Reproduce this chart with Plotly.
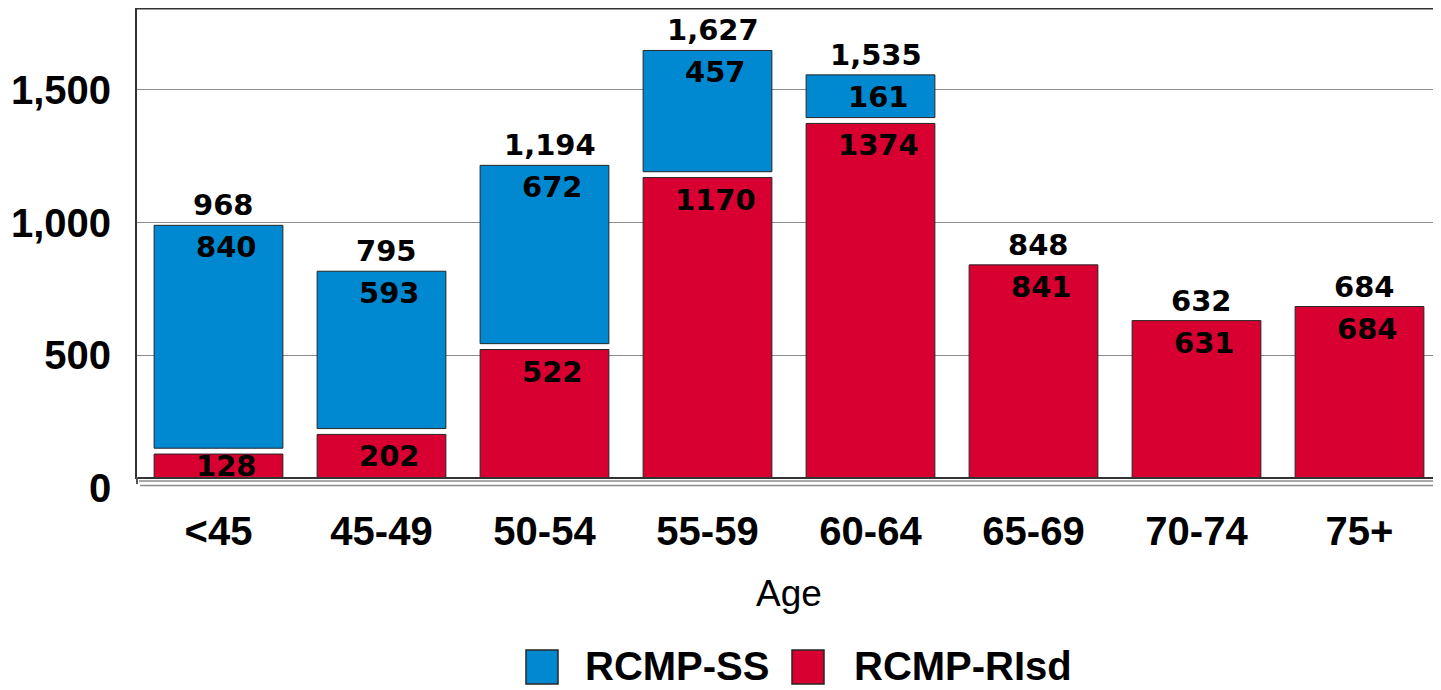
import plotly.graph_objects as go

# ---------------- data ----------------
categories = ["<45", "45-49", "50-54", "55-59", "60-64", "65-69", "70-74", "75+"]
rcmp_ss = [840, 593, 672, 457, 161, 7, 1, 0]
rcmp_risd = [128, 202, 522, 1170, 1374, 841, 631, 684]
totals = [968, 795, 1194, 1627, 1535, 848, 632, 684]
y_ticks = [500, 1000, 1500]
y_tick_text = ["500", "1,000", "1,500"]
zero_label = "0"
series_names = ["RCMP-SS", "RCMP-RIsd"]
x_title = "Age"

# ---------------- style ----------------
BLUE = "#0089d0"
RED = "#d70030"
OUTLINE = "#262626"
OFF = 8                               # page body margin offset
W, H = 1441 - OFF, 690 - OFF
ML, MR, MT, MB = 137 - OFF, 0, 0, 213
PLOT_H = H - MT - MB
PLOT_W = W - ML - MR
YMIN, YMAX = 41.5, 1809.0
K = PLOT_H / (YMAX - YMIN)          # px per data unit
GAP = 22                             # visual gap between stacked segments
LABEL_FONT = dict(family="DejaVu Sans", size=29, color="black", weight="bold")
AX_FONT = dict(family="Liberation Sans", size=40, color="black", weight="bold")


def py(ypix):
    """screen pixel row -> paper y"""
    return (H - MB - (ypix - OFF)) / PLOT_H


def px(xpix):
    """screen pixel column -> paper x"""
    return (xpix - OFF - ML) / PLOT_W


ss_visible = [v >= GAP for v in rcmp_ss]
ss_base = [r + GAP for r in rcmp_risd]

fig = go.Figure()
fig.add_trace(go.Bar(
    x=categories, y=rcmp_risd, name=series_names[1],
    marker=dict(color=RED, line=dict(color=OUTLINE, width=1)),
    showlegend=False, hoverinfo="x+y",
))
fig.add_trace(go.Bar(
    x=categories, y=rcmp_ss, base=ss_base, name=series_names[0],
    marker=dict(color=BLUE, line=dict(color=OUTLINE, width=1),
                opacity=[1 if v else 0 for v in ss_visible]),
    showlegend=False, hoverinfo="x+y",
))

annotations = []
for i, cat in enumerate(categories):
    vis_h = (rcmp_risd[i] - YMIN) * K
    shift = min(22, vis_h / 2)
    annotations.append(dict(x=cat, y=rcmp_risd[i], xref="x", yref="y",
                            text=str(rcmp_risd[i]), showarrow=False,
                            yanchor="middle", yshift=-shift, xshift=8,
                            font=LABEL_FONT))
    top = rcmp_risd[i]
    if ss_visible[i]:
        top = ss_base[i] + rcmp_ss[i]
        annotations.append(dict(x=cat, y=top, xref="x", yref="y",
                                text=str(rcmp_ss[i]), showarrow=False,
                                yanchor="middle", yshift=-22, xshift=8,
                                font=LABEL_FONT))
    annotations.append(dict(x=cat, y=top, xref="x", yref="y",
                            text=f"{totals[i]:,}", showarrow=False,
                            yanchor="middle", yshift=20, xshift=5,
                            font=LABEL_FONT))

TICK_STANDOFF = 16
# "0" tick label sits just under the visible floor (value 0 lies below it)
zero_paper_y = -YMIN * K / PLOT_H
annotations.append(dict(x=0, y=zero_paper_y, xref="paper", yref="paper",
                        text=zero_label, showarrow=False, xanchor="right",
                        yanchor="middle", xshift=-(TICK_STANDOFF + 8),
                        font=AX_FONT))
annotations.append(dict(x=0.5, y=py(593), xref="paper", yref="paper",
                        text=x_title, showarrow=False, yanchor="middle",
                        font=dict(family="Liberation Sans", size=37, color="black")))

shapes = [
    dict(type="line", xref="paper", yref="paper", x0=0, x1=1, y0=1, y1=1,
         line=dict(color="#333333", width=3)),
    dict(type="line", xref="paper", yref="paper", x0=px(139), x1=1,
         y0=py(481), y1=py(481), line=dict(color="#8a8a8a", width=1.5)),
    dict(type="line", xref="paper", yref="paper", x0=px(140), x1=1,
         y0=py(485.5), y1=py(485.5), line=dict(color="#8a8a8a", width=1.5)),
    dict(type="line", xref="paper", yref="paper", x0=px(137), x1=px(137),
         y0=py(477), y1=py(484), line=dict(color="#555555", width=2)),
]

legend_items = [(series_names[0], BLUE, 526, 558, 583),
                (series_names[1], RED, 792, 824, 852)]
for name, col, x0, x1, tx in legend_items:
    shapes.append(dict(type="rect", xref="paper", yref="paper",
                       x0=px(x0), x1=px(x1), y0=py(684), y1=py(650),
                       fillcolor=col, line=dict(color=OUTLINE, width=1.5)))
    annotations.append(dict(x=px(tx), y=py(666), xref="paper", yref="paper",
                            text=name, showarrow=False, xanchor="left",
                            yanchor="middle",
                            font=dict(family="Liberation Sans", size=40,
                                      color="black", weight="bold")))

fig.update_layout(
    width=W, height=H,
    margin=dict(l=ML, r=MR, t=MT, b=MB, pad=0),
    paper_bgcolor="white", plot_bgcolor="white",
    barmode="overlay", bargap=0.21,
    showlegend=False,
    annotations=annotations, shapes=shapes,
    xaxis=dict(type="category", range=[-0.5, len(categories) - 0.5],
               showline=True, linecolor="#333333", linewidth=2,
               showgrid=False, ticks="", tickfont=AX_FONT,
               ticklabelstandoff=18, fixedrange=True),
    yaxis=dict(range=[YMIN, YMAX], tickvals=y_ticks, ticktext=y_tick_text,
               showline=True, linecolor="#333333", linewidth=2,
               showgrid=True, gridcolor="#8c8c8c", gridwidth=1,
               zeroline=False, ticks="", tickfont=AX_FONT,
               ticklabelstandoff=TICK_STANDOFF, fixedrange=True),
)

fig.write_html("out.html")
